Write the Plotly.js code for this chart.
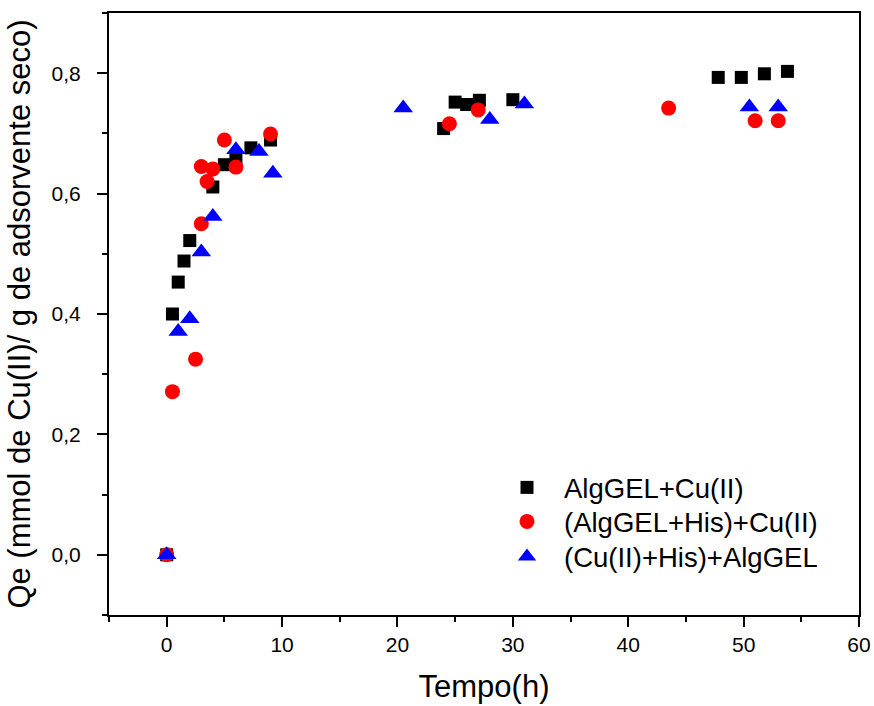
<!DOCTYPE html>
<html>
<head>
<meta charset="utf-8">
<script src="https://cdn.plot.ly/plotly-3.0.1.min.js"></script>
<style>html,body{margin:0;padding:0;background:#fff;}#chart{width:874px;height:706px;}</style>
</head>
<body>
<div id="chart"></div>
<script>
// Series 1: AlgGEL+Cu(II)
const timeA = [0, 0.5, 1.0, 1.5, 2.0, 4.0, 5.0, 6.0, 7.3, 9.0, 24.0, 25.0, 26.0, 27.1, 30.0, 47.8, 49.8, 51.8, 53.8];
const qeA   = [0.000, 0.400, 0.453, 0.488, 0.522, 0.611, 0.648, 0.655, 0.676, 0.689, 0.708, 0.752, 0.748, 0.755, 0.756, 0.793, 0.793, 0.799, 0.803];
// Series 2: (AlgGEL+His)+Cu(II)
const timeB = [0, 0.5, 2.5, 3.0, 3.0, 3.5, 4.0, 5.0, 6.0, 9.0, 24.5, 27.0, 43.5, 51.0, 53.0];
const qeB   = [0.000, 0.271, 0.325, 0.550, 0.645, 0.620, 0.641, 0.689, 0.644, 0.699, 0.716, 0.739, 0.742, 0.721, 0.721];
// Series 3: (Cu(II)+His)+AlgGEL
const timeC = [0, 1.0, 2.0, 3.0, 4.0, 6.0, 8.0, 9.2, 20.5, 28.0, 31.0, 50.5, 53.0];
const qeC   = [0.000, 0.371, 0.392, 0.503, 0.562, 0.673, 0.670, 0.634, 0.742, 0.723, 0.749, 0.744, 0.744];

const seriesNames = ["AlgGEL+Cu(II)", "(AlgGEL+His)+Cu(II)", "(Cu(II)+His)+AlgGEL"];
const xTitle = "Tempo(h)";
const yTitle = "Qe (mmol de Cu(II)/ g de adsorvente seco)";

const FONT = "Liberation Sans, Arial, sans-serif";

const traces = [
  {x: timeA, y: qeA, name: seriesNames[0], type: "scatter", mode: "markers", legend: "legend",
   marker: {symbol: "square", size: 13, color: "#000000"}},
  {x: timeB, y: qeB, name: seriesNames[1], type: "scatter", mode: "markers", legend: "legend2",
   marker: {symbol: "circle", size: 15, color: "#ff0000"}},
  {x: timeC, y: qeC, name: seriesNames[2], type: "scatter", mode: "markers", legend: "legend3",
   marker: {symbol: "triangle-up", size: 17, color: "#0000ff"}}
];

const axisCommon = {
  showgrid: false, zeroline: false, showline: true, linecolor: "#000", linewidth: 2,
  mirror: true, ticks: "outside", ticklen: 10, tickwidth: 2, tickcolor: "#000",
  tickfont: {family: FONT, size: 21, color: "#000"}
};

function legendAt(topPx) {
  return {x: (490 - 109) / 750, y: (615 - topPx) / 602, xanchor: "left", yanchor: "top",
          bgcolor: "rgba(0,0,0,0)", borderwidth: 0, itemwidth: 64,
          font: {family: FONT, size: 27.5, color: "#000"}};
}

const layout = {
  width: 874, height: 706,
  margin: {l: 109, r: 15, t: 13, b: 91},
  paper_bgcolor: "#fff", plot_bgcolor: "#fff",
  separators: ",.",
  font: {family: FONT, color: "#000"},
  showlegend: true,
  legend: legendAt(463),
  legend2: legendAt(497),
  legend3: legendAt(532),
  xaxis: Object.assign({}, axisCommon, {
    range: [-5, 60], tickmode: "linear", tick0: 0, dtick: 10,
    minor: {ticks: "outside", ticklen: 5, tickwidth: 2, tickcolor: "#000", dtick: 5},
    title: {text: xTitle, font: {family: FONT, size: 31, color: "#000"}, standoff: 20}
  }),
  yaxis: Object.assign({}, axisCommon, {
    range: [-0.1, 0.9], tickmode: "linear", tick0: 0, dtick: 0.2, tickformat: ".1f",
    ticklabelstandoff: 12,
    minor: {ticks: "outside", ticklen: 5, tickwidth: 2, tickcolor: "#000", dtick: 0.1},
    title: {text: yTitle, font: {family: FONT, size: 31, color: "#000"}, standoff: 12}
  })
};

Plotly.newPlot("chart", traces, layout, {displayModeBar: false, staticPlot: true});
</script>
</body>
</html>
